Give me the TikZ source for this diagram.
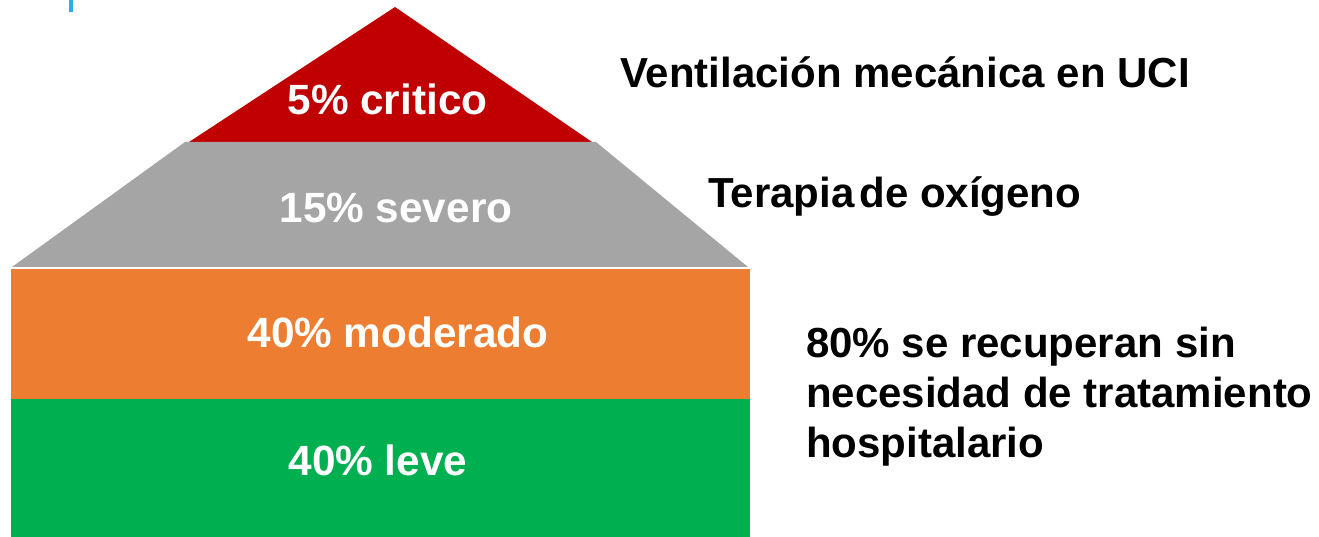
\documentclass[tikz,border=0pt]{standalone}
\usepackage{fontspec}
\setmainfont{Liberation Sans}
\definecolor{critred}{HTML}{C00000}
\definecolor{sevgray}{HTML}{A5A5A5}
\definecolor{modorange}{HTML}{ED7D31}
\definecolor{levegreen}{HTML}{00B050}
\definecolor{markblue}{HTML}{29AEE6}
\tikzset{
  inlabel/.style={text=white, font=\bfseries\fontsize{42.3}{50}\selectfont, inner sep=0pt, anchor=base},
  sidelabel/.style={text=black, font=\bfseries\fontsize{42}{50}\selectfont, inner sep=0pt, anchor=base west, align=left},
}
\begin{document}
\begin{tikzpicture}[x=1pt,y=-1pt]
\useasboundingbox (0,0) rectangle (1319,537);
% small blue mark
\fill[markblue] (69,0) rectangle (73,12);
% pyramid levels
\fill[critred] (395,7) -- (592,142) -- (189,142) -- cycle;
\fill[sevgray] (185,142) -- (596,142) -- (748,267) -- (12,267) -- cycle;
\fill[modorange] (11,269) rectangle (750,399);
\fill[levegreen] (11,399) rectangle (750,537);
% inner labels
\node[inlabel] (crit) at (387.5,115) {5\% critico};
\node[inlabel] (sev) at (396,223) {15\% severo};
\node[inlabel] (mod) at (398,347) {40\% moderado};
\node[inlabel] (leve) at (378,475) {40\% leve};
% side labels
\node[sidelabel] (vent) at (620,88) {Ventilación mecánica en UCI};
\node[sidelabel] (oxi) at (708,208) {Terapia\hspace{5pt}de oxígeno};
\node[sidelabel] (rec) at (806,457) {80\% se recuperan sin\\necesidad de tratamiento\\hospitalario};
\end{tikzpicture}
\end{document}
